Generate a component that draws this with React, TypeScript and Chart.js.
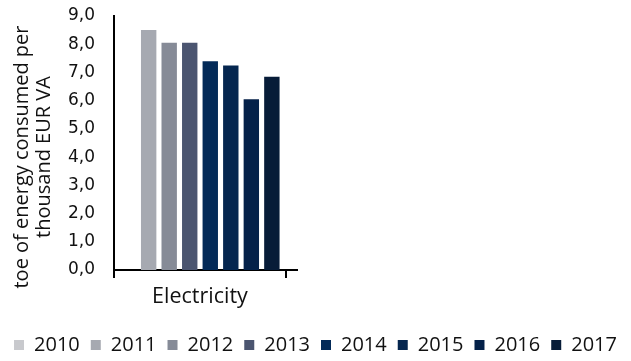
import React, { useEffect, useRef } from "react";
import { Chart, registerables } from "chart.js";

Chart.register(...registerables);

const categories = ["Electricity"];
const years = ["2010", "2011", "2012", "2013", "2014", "2015", "2016", "2017"];
const values: (number | null)[] = [null, 8.5, 8.05, 8.05, 7.4, 7.25, 6.05, 6.85];
const colors = ["#c8c9cd", "#a6a9b1", "#868b97", "#4b5570", "#032a58", "#05264f", "#042149", "#071c38"];
const yTicks = [0, 1, 2, 3, 4, 5, 6, 7, 8, 9];
const yTickLabels = ["0,0", "1,0", "2,0", "3,0", "4,0", "5,0", "6,0", "7,0", "8,0", "9,0"];
const yTitle = ["toe of energy consumed per", "thousand EUR VA"];

const FONT = "'Open Sans', 'Noto Sans', sans-serif";
const TICK_FONT = "'DejaVu Sans', sans-serif";

const extrasPlugin = {
  id: "extras",
  afterDraw(chart: any) {
    const { ctx, chartArea } = chart;
    ctx.save();
    // x-axis line extension beyond last category boundary
    ctx.strokeStyle = "#000";
    ctx.lineWidth = 2;
    ctx.beginPath();
    ctx.moveTo(chartArea.right, chartArea.bottom);
    ctx.lineTo(chartArea.right + 12, chartArea.bottom);
    ctx.stroke();
    // y-axis title
    const cy = (chartArea.top + chartArea.bottom) / 2 + 14;
    ctx.fillStyle = "#111";
    ctx.font = `20px ${FONT}`;
    ctx.textAlign = "center";
    ctx.textBaseline = "middle";
    yTitle.forEach((line, i) => {
      ctx.save();
      ctx.translate(chartArea.left - 92 + i * 22, cy);
      ctx.rotate(-Math.PI / 2);
      ctx.fillText(line, 0, 0);
      ctx.restore();
    });
    ctx.restore();
  },
};

export default function App() {
  const ref = useRef<HTMLCanvasElement>(null);
  useEffect(() => {
    if (!ref.current) return;
    const chart = new Chart(ref.current, {
      type: "bar",
      data: {
        labels: categories,
        datasets: years.map((y, i) => ({
          label: y,
          data: [values[i]],
          backgroundColor: colors[i],
          borderWidth: 0,
          categoryPercentage: 0.955,
          barPercentage: 0.75,
        })),
      },
      options: {
        animation: false,
        responsive: true,
        maintainAspectRatio: false,
        layout: { padding: { top: 16, left: 0, right: 0, bottom: -4 } },
        plugins: {
          legend: {
            position: "bottom",
            labels: {
              boxWidth: 10,
              boxHeight: 10,
              padding: 11,
              color: "#111",
              font: { family: FONT, size: 20 },
            },
          },
          tooltip: { enabled: false },
          title: { display: false },
        },
        scales: {
          x: {
            grid: {
              display: true,
              drawOnChartArea: false,
              drawTicks: true,
              tickLength: 8,
              color: "#000",
              lineWidth: 2,
              offset: true,
            },
            border: { display: true, color: "#000", width: 2 },
            ticks: {
              color: "#111",
              font: { family: FONT, size: 21.5 },
              padding: 6,
            },
            afterFit: (s: any) => {
              s.height = 54;
            },
          },
          y: {
            min: 0,
            max: 9,
            grid: { display: false, drawTicks: false },
            border: { display: true, color: "#000", width: 2 },
            afterBuildTicks: (s: any) => {
              s.ticks = yTicks.map((v) => ({ value: v }));
            },
            ticks: {
              color: "#111",
              font: { family: TICK_FONT, size: 17 },
              padding: 19,
              callback: (v: any) => yTickLabels[yTicks.indexOf(Number(v))] ?? "",
            },
            afterFit: (s: any) => {
              s.width = 114;
              s.paddingTop = 0;
              s.paddingBottom = 0;
            },
          },
          yr: {
            type: "linear",
            position: "right",
            display: true,
            grid: { display: false, drawTicks: false },
            border: { display: false },
            ticks: { display: false },
            afterFit: (s: any) => {
              s.width = 345;
              s.paddingTop = 0;
              s.paddingBottom = 0;
            },
          },
        },
      },
      plugins: [extrasPlugin],
    });
    return () => chart.destroy();
  }, []);
  return (
    <div style={{ position: "fixed", left: 0, top: 0, width: 631, height: 361 }}>
      <canvas ref={ref} style={{ width: "100%", height: "100%" }} />
    </div>
  );
}
